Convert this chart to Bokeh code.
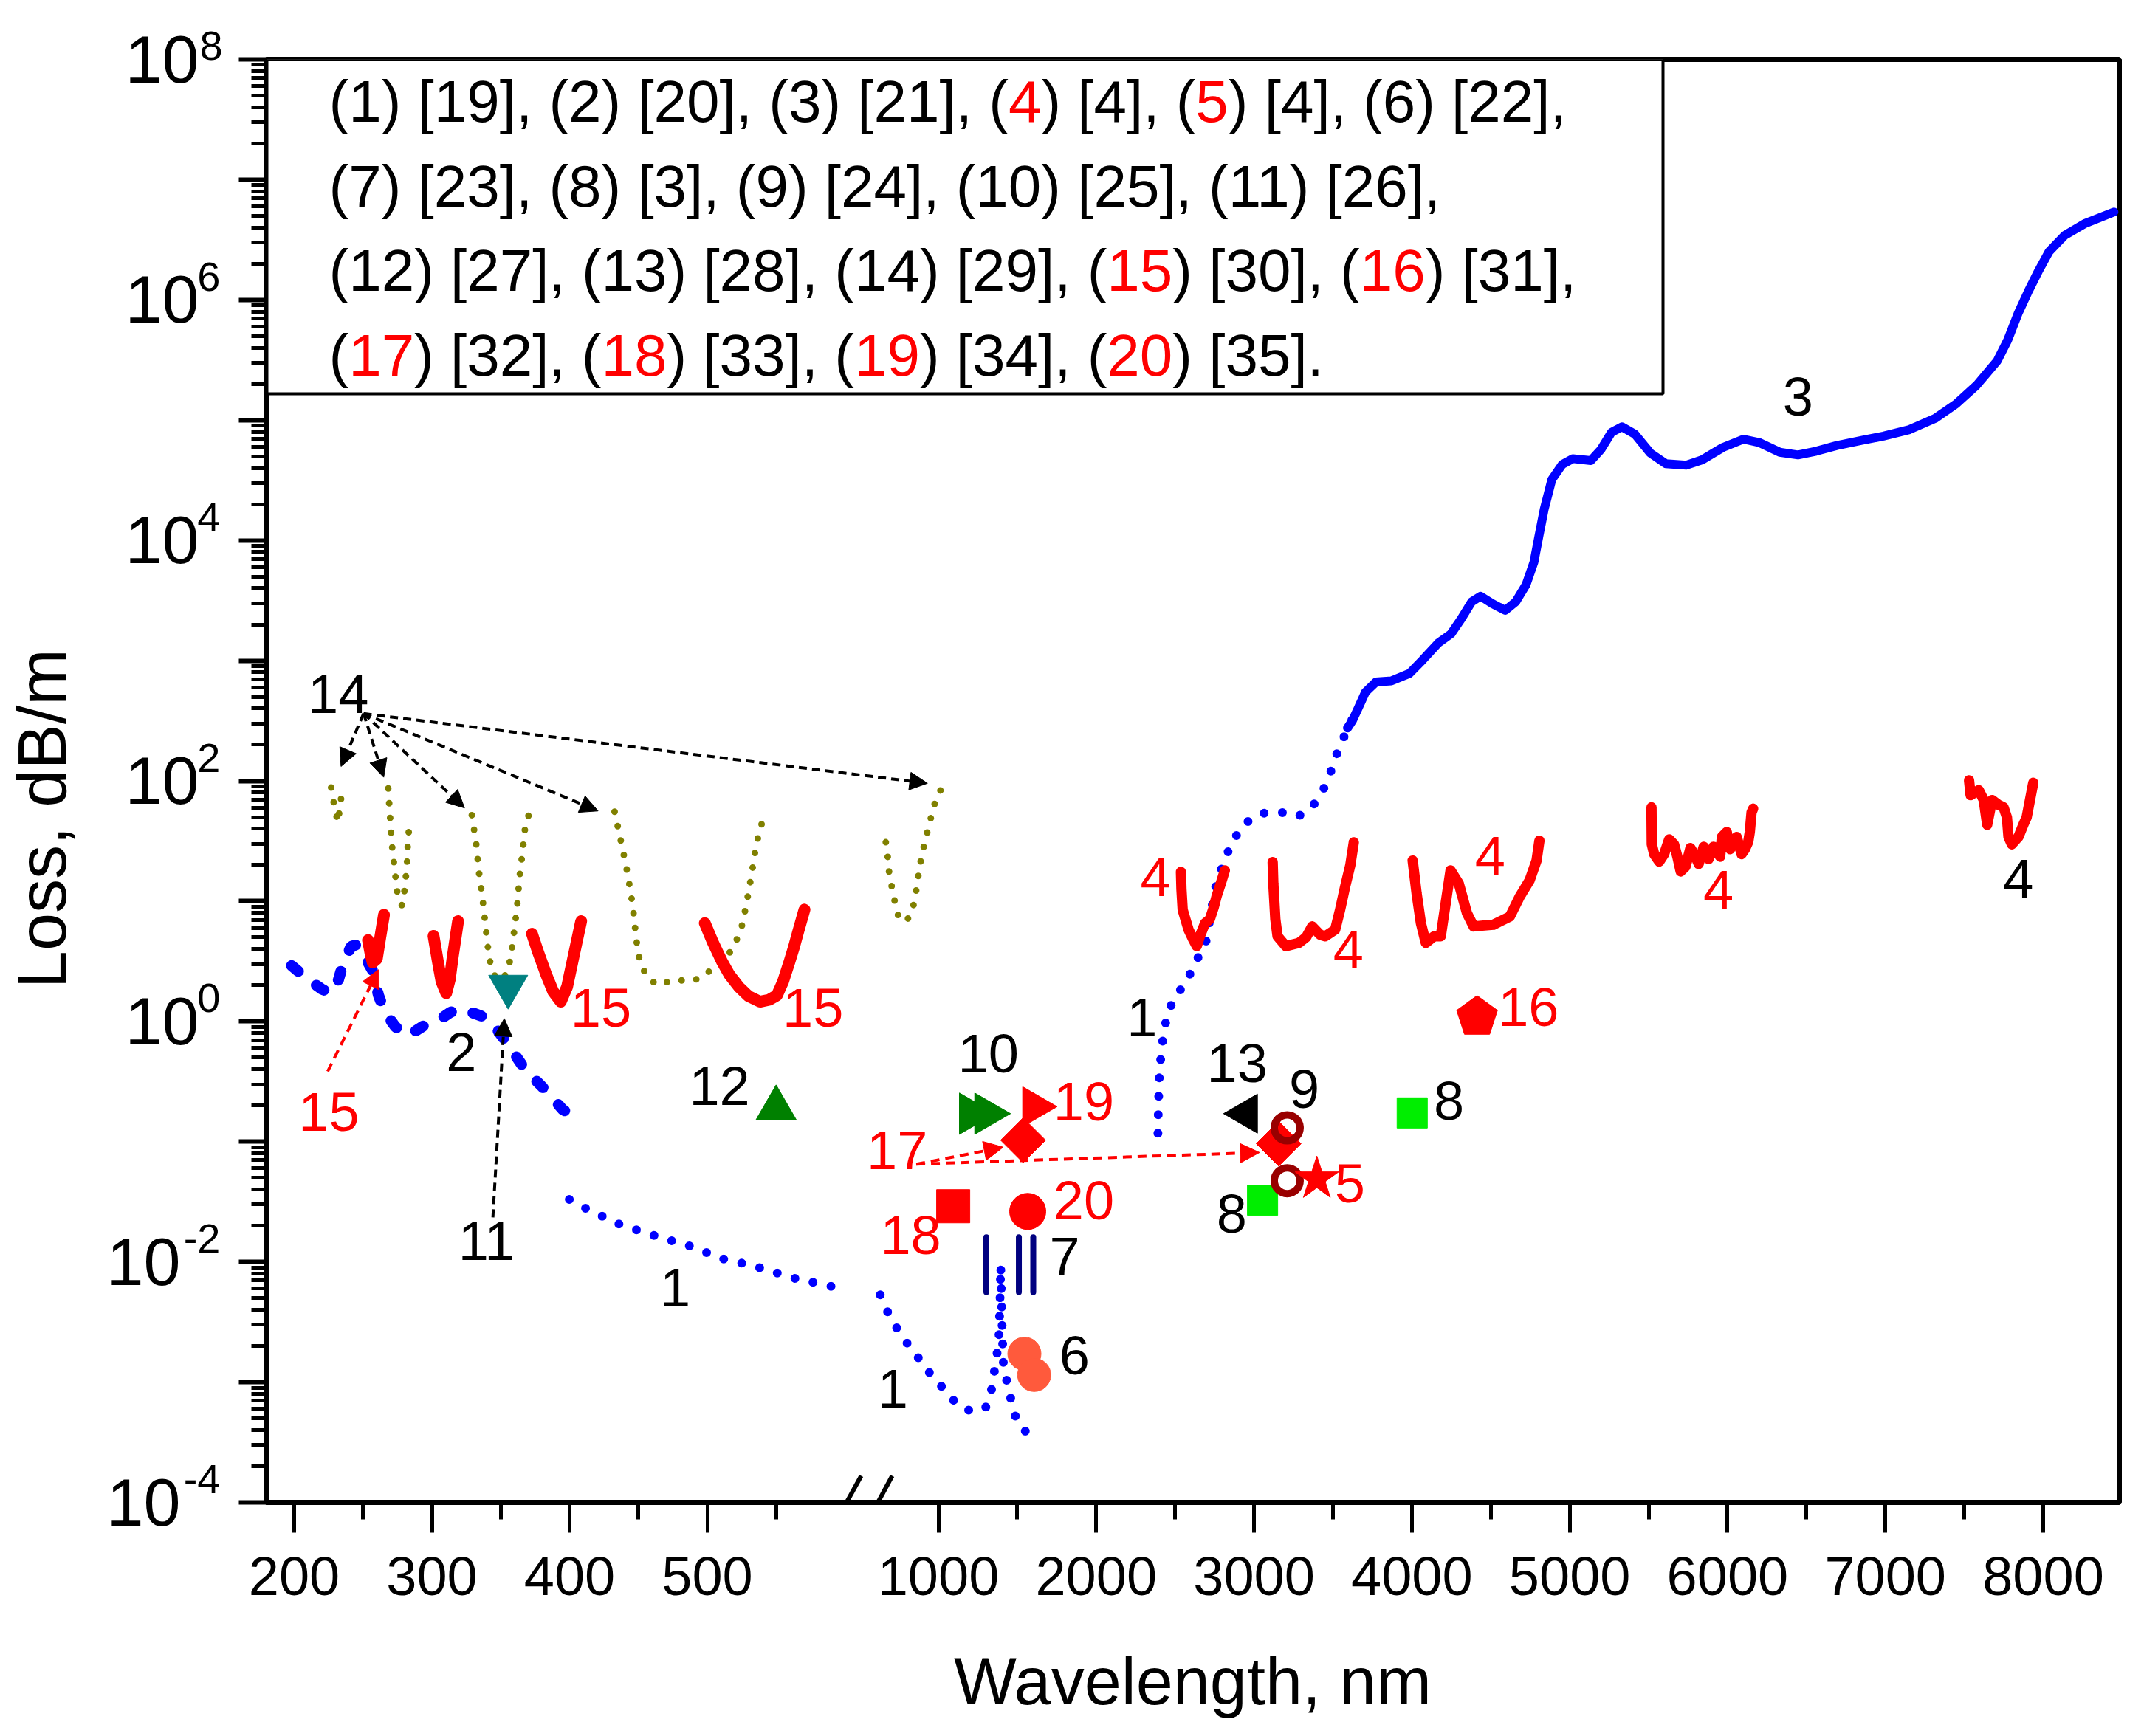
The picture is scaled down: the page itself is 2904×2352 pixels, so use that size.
import numpy as np
from bokeh.plotting import figure
from bokeh.models import (Range1d, FixedTicker, CustomJSTickFormatter, Label, Arrow,
                          NormalHead, BoxAnnotation, LogAxis, Title)
from bokeh.embed import file_html
from bokeh.resources import INLINE

FONT = "Liberation Sans"

# ---------------- data: wavelength (nm), loss exponent = log10(loss, dB/m) ----------------
# curve 1 (blue dotted) three pieces
c1a_wl = [399.8, 412.8, 425.9, 439.2, 453.6, 466.9, 480.7, 494.6, 508.1, 521.9, 535.1, 550.0, 563.5, 577.4, 591.2, 596.0]
c1a_ex = [-1.481, -1.562, -1.632, -1.703, -1.749, -1.801, -1.844, -1.896, -1.967, -2.002, -2.038, -2.090, -2.136, -2.171, -2.206, -2.22]
c1b_wl = [632, 680, 731, 780, 839, 882, 933, 994, 1056, 1121, 1156, 1223, 1260, 1298, 1330, 1349, 1370, 1384, 1390, 1395,
          1400, 1405, 1412, 1425, 1440, 1464, 1497, 1558]
c1b_ex = [-2.274, -2.42, -2.538, -2.64, -2.735, -2.814, -2.905, -2.993, -3.096, -3.184, -3.22, -3.243, -3.23, -3.214, -3.117,
          -2.961, -2.779, -2.618, -2.35, -2.03, -2.3, -2.6, -2.85, -2.97, -3.0, -3.176, -3.322, -3.419]
c1c_wl = [2391, 2393, 2396, 2400, 2410, 2425, 2447, 2496, 2565, 2620, 2694, 2717, 2738, 2762, 2808, 2856, 2936, 3038, 3155,
          3278, 3368, 3441, 3493, 3535, 3600, 3660]
c1c_ex = [-0.93, -0.78, -0.62, -0.46, -0.29, -0.12, 0.04, 0.205, 0.311, 0.468, 0.653, 0.826, 0.99, 1.155, 1.316, 1.481, 1.64,
          1.727, 1.744, 1.703, 1.782, 1.933, 2.1, 2.27, 2.45, 2.62]
# curve 2 (blue dashed)
c2_wl = [198.1, 208.9, 219.7, 225.8, 230.5, 235.1, 241.2, 246.0, 250.5, 256.6, 261.2, 265.8, 273.6, 282.8, 295.1, 304.3,
         313.6, 321.3, 336.7, 345.9, 355.1, 367.5, 381.3, 395.1, 405.9]
c2_ex = [0.464, 0.359, 0.271, 0.236, 0.282, 0.464, 0.623, 0.64, 0.553, 0.43, 0.218, 0.077, -0.046, -0.117, -0.029, 0.006,
         0.077, 0.105, 0.042, -0.046, -0.188, -0.398, -0.558, -0.734, -0.804]
# curve 3 (blue solid)
c3_wl = [3592, 3624, 3657, 3706, 3772, 3870, 3985, 4067, 4166, 4248, 4313, 4379, 4435, 4510, 4592, 4658, 4723, 4773, 4805,
         4838, 4887, 4953, 5019, 5134, 5199, 5265, 5331, 5413, 5511, 5609, 5740, 5839, 5970, 6101, 6200, 6331, 6446, 6561,
         6692, 6856, 6987, 7152, 7316, 7447, 7578, 7709, 7775, 7840, 7906, 7972, 8037, 8136, 8267, 8448]
c3_ex = [2.44, 2.503, 2.597, 2.738, 2.822, 2.832, 2.894, 3.004, 3.145, 3.223, 3.348, 3.489, 3.536, 3.474, 3.418, 3.489, 3.63,
         3.818, 4.037, 4.257, 4.507, 4.632, 4.68, 4.664, 4.758, 4.899, 4.945, 4.883, 4.726, 4.638, 4.626, 4.67, 4.773, 4.842,
         4.814, 4.733, 4.711, 4.742, 4.789, 4.833, 4.867, 4.921, 5.015, 5.134, 5.29, 5.494, 5.666, 5.885, 6.073, 6.246,
         6.402, 6.537, 6.637, 6.731]
# curve 4 (red, five windows)
c4a_wl = [2537, 2540, 2548, 2585, 2615, 2637, 2660, 2690, 2720, 2745, 2762, 2790, 2815]
c4a_ex = [1.243, 1.1, 0.927, 0.763, 0.68, 0.626, 0.72, 0.818, 0.85, 0.95, 1.037, 1.15, 1.256]
c4b_wl = [3118, 3122, 3135, 3149, 3201, 3284, 3330, 3368, 3420, 3451, 3514, 3545, 3577, 3610, 3632]
c4b_ex = [1.325, 1.15, 0.85, 0.708, 0.626, 0.653, 0.70, 0.79, 0.72, 0.708, 0.763, 0.927, 1.12, 1.30, 1.489]
c4c_wl = [4005, 4030, 4057, 4088, 4141, 4183, 4214, 4245, 4297, 4349, 4391, 4516, 4621, 4683, 4746, 4790, 4808]
c4c_ex = [1.338, 1.064, 0.818, 0.653, 0.708, 0.708, 0.982, 1.256, 1.147, 0.9, 0.79, 0.804, 0.872, 1.037, 1.174, 1.338, 1.503]
c4d_wl = [5518, 5520, 5535, 5567, 5598, 5630, 5661, 5682, 5703, 5734, 5765, 5797, 5817, 5849, 5880, 5911, 5953, 5964, 5995,
          6016, 6058, 6089, 6110, 6131, 6141, 6152, 6162]
c4d_ex = [1.78, 1.473, 1.391, 1.329, 1.391, 1.514, 1.473, 1.37, 1.247, 1.288, 1.442, 1.37, 1.309, 1.452, 1.35, 1.452, 1.37,
          1.534, 1.575, 1.432, 1.534, 1.391, 1.432, 1.493, 1.575, 1.738, 1.769]
c4e_wl = [7530, 7540, 7592, 7623, 7645, 7676, 7718, 7749, 7770, 7780, 7801, 7843, 7874, 7895, 7916, 7937]
c4e_ex = [2.005, 1.882, 1.923, 1.841, 1.636, 1.841, 1.8, 1.78, 1.697, 1.534, 1.473, 1.534, 1.636, 1.697, 1.841, 1.984]
# curve 14 (olive dotted)
c14a_wl = [226.8, 229.0, 231.7, 233.5, 235.1]
c14a_ex = [1.944, 1.8, 1.655, 1.8, 1.962]
c14b_wl = [268.3, 270.8, 273.2, 275.3, 278.2, 280.3, 281.9, 282.8, 285.0]
c14b_ex = [1.937, 1.487, 1.24, 1.03, 0.965, 1.10, 1.31, 1.557, 1.655]
c14c_wl = [329.0, 332.1, 334.2, 336.7, 339.1, 341.3, 343.4, 347.4, 354.5, 357.3, 359.7, 361.9, 363.7, 365.9, 368.0, 371.1]
c14c_ex = [1.715, 1.486, 1.24, 1.029, 0.782, 0.553, 0.436, 0.341, 0.394, 0.535, 0.746, 0.958, 1.205, 1.416, 1.645, 1.74]
c14d_wl = [432.7, 436.7, 438.8, 440.7, 442.8, 444.4, 446.0, 446.8, 448.1, 449.1, 451.1, 455.1, 462.8, 472.0, 478.7, 485.9,
           492.1, 498.2, 507.5, 513.7, 519.8, 524.4, 526.6, 530.5, 532.1, 533.7, 535.2, 537.6, 539.8, 544.4]
c14d_ex = [1.744, 1.529, 1.416, 1.31, 1.187, 1.063, 0.958, 0.852, 0.729, 0.623, 0.5, 0.394, 0.306, 0.33, 0.341, 0.341, 0.35,
           0.401, 0.443, 0.524, 0.64, 0.757, 0.87, 1.106, 1.222, 1.327, 1.45, 1.563, 1.655, 1.733]
c14e_wl = [667, 680, 688, 700, 716, 729, 745, 770, 796, 836, 861, 883, 905, 948, 983, 1035]
c14e_ex = [1.49, 1.36, 1.24, 1.15, 1.05, 0.96, 0.88, 0.84, 0.83, 0.92, 1.1, 1.3, 1.44, 1.67, 1.84, 1.98]
# curve 15 (red solid)
c15a_wl = [253.6, 255.5, 257.0, 260.0, 262.5, 265.2]
c15a_ex = [0.676, 0.56, 0.49, 0.52, 0.70, 0.887]
c15b_wl = [301.2, 304.3, 307.0, 310.4, 313.0, 315.1, 317.0, 319.0]
c15b_ex = [0.711, 0.5, 0.33, 0.235, 0.35, 0.535, 0.68, 0.834]
c15c_wl = [372.7, 377.0, 382.9, 388.0, 393.6, 398.2, 402.8, 405.5, 408.4]
c15c_ex = [0.729, 0.58, 0.394, 0.25, 0.164, 0.288, 0.535, 0.68, 0.834]
c15d_wl = [498.2, 504.0, 510.6, 516.0, 522.9, 530.0, 538.3, 545.0, 550.6, 555.0, 559.8, 563.0, 566.0, 570.6]
c15d_ex = [0.817, 0.66, 0.5, 0.39, 0.288, 0.21, 0.164, 0.18, 0.217, 0.33, 0.5, 0.62, 0.746, 0.93]

# single-point results
m5_wl, m5_ex = [3398], [-1.31]
m6_wl, m6_ex = [1545, 1607], [-2.764, -2.94]
m7_wl, m7_lo, m7_hi = [1304, 1510, 1601], [-2.25, -2.25, -2.25], [-1.795, -1.795, -1.795]
m8_wl, m8_ex = [3054, 4002], [-1.487, -0.761]
m9_wl, m9_ex = [3210, 3210], [-0.885, -1.325]
m10_wl, m10_ex = [1209, 1306], [-0.767, -0.767]
m11_wl, m11_ex = [355.4], [0.29]
m12_wl, m12_ex = [550.0], [-0.723]
m13_wl, m13_ex = [2950], [-0.767]
m16_wl, m16_ex = [4413], [0.037]
m17_wl, m17_ex = [1537, 3156], [-0.988, -1.017]
m18_wl, m18_ex = [1094], [-1.537]
m19_wl, m19_ex = [1607], [-0.709]
m20_wl, m20_ex = [1566], [-1.58]

# in-plot labels: (text, axis part, wavelength, exponent of text centre, colour)
labels = [
    ("14", "L", 232.0, 2.72, "black"), ("15", "L", 422.8, 0.112, "red"), ("15", "L", 576.8, 0.112, "red"),
    ("15", "L", 225.2, -0.751, "red"), ("2", "L", 321.3, -0.258, "black"), ("11", "L", 339.7, -1.826, "black"),
    ("12", "L", 508.9, -0.54, "black"), ("1", "L", 476.7, -2.214, "black"),
    ("10", "R", 1317, -0.267, "black"), ("19", "R", 1921, -0.665, "red"), ("17", "R", 739, -1.075, "red"),
    ("18", "R", 825, -1.78, "red"), ("20", "R", 1921, -1.487, "red"), ("7", "R", 1800, -1.956, "black"),
    ("6", "R", 1862, -2.778, "black"), ("1", "R", 712, -3.057, "black"), ("1", "R", 2290, 0.03, "black"),
    ("13", "R", 2893, -0.35, "black"), ("9", "R", 3318, -0.563, "black"), ("5", "R", 3607, -1.35, "red"),
    ("8", "R", 2858, -1.6, "black"), ("8", "R", 4235, -0.663, "black"), ("16", "R", 4739, 0.119, "red"),
    ("4", "R", 2376, 1.202, "red"), ("4", "R", 3598, 0.599, "red"), ("4", "R", 4496, 1.38, "red"),
    ("4", "R", 5942, 1.094, "red"), ("4", "R", 7843, 1.186, "black"), ("3", "R", 6446, 5.196, "black"),
]

x_left_major = [200, 300, 400, 500]
x_left_minor = [250, 350, 450, 550]
x_right_major = [1000, 2000, 3000, 4000, 5000, 6000, 7000, 8000]
x_right_minor = [1500, 2500, 3500, 4500, 5500, 6500, 7500]
y_major_exps = list(range(-4, 9))
y_label_exps = [8, 6, 4, 2, 0, -2, -4]

legend_lines = [
    [("(1) [19], (2) [20], (3) [21], (", "black"), ("4", "red"), (") [4], (", "black"), ("5", "red"),
     (") [4], (6) [22],", "black")],
    [("(7) [23], (8) [3], (9) [24], (10) [25], (11) [26],", "black")],
    [("(12) [27], (13) [28], (14) [29], (", "black"), ("15", "red"), (") [30], (", "black"), ("16", "red"),
     (") [31],", "black")],
    [("(", "black"), ("17", "red"), (") [32], (", "black"), ("18", "red"), (") [33], (", "black"), ("19", "red"),
     (") [34], (", "black"), ("20", "red"), (") [35].", "black")],
]

# ---------------- layout calibration (canvas pixels) ----------------
CW, CH = 2888, 2336
FL, FR, FT, FB = 360.0, 2870.0, 80.0, 2035.0
SL = (957.5 - 398.0) / 300.0           # px per nm, left part
SR = (2767.0 - 1270.5) / 7000.0        # px per nm, right part
L0 = 200.0 - (398.0 - FL) / SL
L1 = L0 + (FR - FL) / SL
R0 = 1000.0 - (1270.5 - FL) / SR
R1 = R0 + (FR - FL) / SR
PXDEC = (FB - FT) / 12.0
SUP_SHIFT = 31.5 / PXDEC               # superscripts sit above the decade tick


def E(a):
    return 10.0 ** np.asarray(a, dtype=float)


def to_left(wl):
    return L0 + (np.asarray(wl, dtype=float) - R0) * (L1 - L0) / (R1 - R0)


def px_x(px):
    return L0 + (px - FL) / SL


def px_e(py):
    return 8.0 - (py - FT) / PXDEC


p = figure(width=CW, height=CH, output_backend="svg", toolbar_location=None, title=None,
           x_range=Range1d(L0, L1), y_range=Range1d(1e-4, 1e8), y_axis_type="log",
           min_border_left=int(FL), min_border_right=int(CW - FR),
           min_border_top=int(FT), min_border_bottom=int(CH - FB))
p.extra_x_ranges = {"right": Range1d(R0, R1)}
p.grid.visible = False
p.background_fill_color = "white"
p.border_fill_color = "white"
p.outline_line_color = "black"
p.outline_line_width = 7

# x axis (broken): one axis, right-part ticks mapped onto it
xa = p.xaxis[0]
pos = list(x_left_major) + [float(v) for v in to_left(x_right_major)]
labs = [str(v) for v in x_left_major + x_right_major]
xa.ticker = FixedTicker(ticks=pos, minor_ticks=list(x_left_minor) + [float(v) for v in to_left(x_right_minor)])
xa.formatter = CustomJSTickFormatter(args=dict(pos=pos, labs=labs), code="""
let best = ''; let bd = 1e12;
for (let i = 0; i < pos.length; i++) { const d = Math.abs(pos[i] - tick); if (d < bd) { bd = d; best = labs[i]; } }
return best;
""")
xa.major_label_text_font = FONT
xa.major_label_text_font_size = "74px"
xa.major_label_text_color = "black"
xa.major_label_standoff = 33
xa.major_tick_out = 41
xa.major_tick_in = 0
xa.minor_tick_out = 23
xa.minor_tick_in = 0
xa.major_tick_line_width = 5
xa.minor_tick_line_width = 5
xa.axis_line_width = 7
xa.axis_label = "Wavelength, nm"
xa.axis_label_text_font = FONT
xa.axis_label_text_font_size = "90px"
xa.axis_label_text_font_style = "normal"
xa.axis_label_text_color = "black"
xa.axis_label_standoff = 64

# y axis: decade ticks with "10" labels (a no-break space leaves room for a minus sign)
ya = p.yaxis[0]
ya.ticker = FixedTicker(ticks=[10.0 ** k for k in y_major_exps],
                        minor_ticks=[m * 10.0 ** k for k in y_major_exps[:-1] for m in range(2, 10)])
ya.formatter = CustomJSTickFormatter(
    code="const k = Math.round(Math.log10(tick)); if (k % 2 !== 0) return ''; return k < 0 ? '10\\u00a0' : '10';")
ya.major_label_text_font = FONT
ya.major_label_text_font_size = "90px"
ya.major_label_text_color = "black"
ya.major_label_standoff = 54
ya.major_tick_out = 37
ya.major_tick_in = 0
ya.minor_tick_out = 20
ya.minor_tick_in = 0
ya.major_tick_line_width = 6
ya.minor_tick_line_width = 5
ya.axis_line_width = 7

# second (label-only) log axis carrying the exponents and the axis title
sup_axis = LogAxis(
    ticker=FixedTicker(ticks=[10.0 ** (k + SUP_SHIFT) for k in y_label_exps if k < 8], minor_ticks=[]),
    formatter=CustomJSTickFormatter(args=dict(s=SUP_SHIFT), code="return String(Math.round(Math.log10(tick) - s));"),
    major_label_text_font=FONT, major_label_text_font_size="56px", major_label_text_color="black",
    major_label_standoff=-157, major_tick_out=0, major_tick_in=0, minor_tick_out=0, minor_tick_in=0,
    major_tick_line_color=None, minor_tick_line_color=None, axis_line_color=None,
    axis_label="Loss, dB/m\u00a0\u00a0\u00a0\u00a0", axis_label_text_font=FONT, axis_label_text_font_size="92px",
    axis_label_text_font_style="normal", axis_label_text_color="black", axis_label_standoff=138)
p.add_layout(sup_axis, "left")
# the exponent of the top decade lies above the frame: give it to a title in the top border
p.add_layout(Title(text=str(y_label_exps[0]), align="left", offset=-90, standoff=0, text_font=FONT,
                   text_font_size="56px", text_font_style="normal", text_color="black",
                   vertical_align="bottom"), "above")

# ---------------- curves ----------------
dot1 = dict(line_color="blue", line_width=12, line_dash="0 25", line_cap="round")
p.line(c1a_wl, E(c1a_ex), **dot1)
p.line(c1b_wl, E(c1b_ex), x_range_name="right", **dot1)
p.line(c1c_wl, E(c1c_ex), x_range_name="right", **dot1)
p.line(c2_wl, E(c2_ex), line_color="blue", line_width=15, line_dash="12 31", line_cap="round")
p.line(c3_wl, E(c3_ex), x_range_name="right", line_color="blue", line_width=12, line_join="round", line_cap="round")

dot14 = dict(line_color="#808000", line_width=9, line_dash="0 20", line_cap="round")
for w, e in [(c14a_wl, c14a_ex), (c14b_wl, c14b_ex), (c14c_wl, c14c_ex), (c14d_wl, c14d_ex)]:
    p.line(w, E(e), **dot14)
p.line(c14e_wl, E(c14e_ex), x_range_name="right", **dot14)

for w, e in [(c15a_wl, c15a_ex), (c15b_wl, c15b_ex), (c15c_wl, c15c_ex), (c15d_wl, c15d_ex)]:
    p.line(w, E(e), line_color="red", line_width=16, line_join="round", line_cap="round")
for w, e in [(c4a_wl, c4a_ex), (c4b_wl, c4b_ex), (c4c_wl, c4c_ex), (c4d_wl, c4d_ex), (c4e_wl, c4e_ex)]:
    p.line(w, E(e), x_range_name="right", line_color="red", line_width=14, line_join="round", line_cap="round")

# ---------------- markers ----------------
p.scatter(m11_wl, E(m11_ex), marker="inverted_triangle", size=53, fill_color="#008080", line_color="#008080")
p.scatter(m12_wl, E(m12_ex), marker="triangle", size=55, fill_color="#008000", line_color="#008000")
R = dict(x_range_name="right")
p.scatter(m10_wl, E(m10_ex), marker="triangle", angle=-np.pi / 2, size=56, fill_color="#008000", line_color="#008000", **R)
p.scatter(m19_wl, E(m19_ex), marker="triangle", angle=-np.pi / 2, size=54, fill_color="red", line_color="red", **R)
p.scatter(m17_wl, E(m17_ex), marker="square", angle=np.pi / 4, size=43, fill_color="red", line_color="red", **R)
p.scatter(m18_wl, E(m18_ex), marker="square", size=45, fill_color="red", line_color="red", **R)
p.scatter(m20_wl, E(m20_ex), marker="circle", size=49, fill_color="red", line_color="red", **R)
p.segment(x0=m7_wl, y0=E(m7_lo), x1=m7_wl, y1=E(m7_hi), line_color="#000080", line_width=8, line_cap="round", **R)
p.scatter(m6_wl, E(m6_ex), marker="circle", size=45, fill_color="#ff5a3c", line_color="#ff5a3c", **R)
p.scatter(m13_wl, E(m13_ex), marker="triangle", angle=np.pi / 2, size=53, fill_color="black", line_color="black", **R)
p.scatter(m8_wl, E(m8_ex), marker="square", size=41, fill_color="#00ee00", line_color="#00ee00", **R)
p.scatter(m9_wl, E(m9_ex), marker="circle", size=35, fill_color=None, line_color="#990000", line_width=10, **R)
p.scatter(m5_wl, E(m5_ex), marker="star", size=62, fill_color="red", line_color="red", **R)
try:
    p.ngon(x=m16_wl, y=E(m16_ex), radius=29, radius_units="screen", n=5, fill_color="red", line_color="red", **R)
except Exception:
    p.scatter(m16_wl, E(m16_ex), marker="hex", size=55, fill_color="red", line_color="red", **R)

# ---------------- arrows ----------------
def head(c, s=24):
    return NormalHead(size=s, fill_color=c, line_color=c, line_width=1)

o14 = (250.4, 2.56)
for tx, te in [(234.0, 2.12), (265.0, 2.03), (323.7, 1.775), (420.7, 1.75), (float(to_left(931)), 1.98)]:
    p.add_layout(Arrow(x_start=o14[0], y_start=10 ** o14[1], x_end=tx, y_end=10 ** te, line_color="black",
                       line_width=4, line_dash="11 7", end=head("black")))
p.add_layout(Arrow(x_start=344.3, y_start=10 ** -1.63, x_end=352.6, y_end=10 ** 0.024, line_color="black",
                   line_width=4, line_dash="11 7", end=head("black")))
p.add_layout(Arrow(x_start=224.3, y_start=10 ** -0.416, x_end=261.2, y_end=10 ** 0.43, line_color="red",
                   line_width=4, line_dash="12 8", end=head("red")))
for tx, te in [(1411, -1.046), (3035, -1.09)]:
    p.add_layout(Arrow(x_start=860, y_start=10 ** -1.187, x_end=tx, y_end=10 ** te, x_range_name="right",
                       line_color="red", line_width=4, line_dash="12 8", end=head("red", 26)))

# axis break marks "//"
for (xa0, ya0, xa1, ya1) in [(1123, 2077, 1166, 1999), (1166, 2077, 1208, 1999)]:
    p.add_layout(Arrow(x_start=px_x(xa0), y_start=10 ** px_e(ya0), x_end=px_x(xa1), y_end=10 ** px_e(ya1),
                       line_color="black", line_width=6, end=None))

# ---------------- in-plot labels (anchor = centre of the digits) ----------------
FS = 74
for txt, part, wl, ex, col in labels:
    kw = dict(x_range_name="right") if part == "R" else {}
    p.add_layout(Label(x=wl, y=10 ** ex, text=txt, text_font=FONT,
                       text_font_size=f"{FS}px", text_color=col, text_align="center",
                       text_baseline="alphabetic", **kw))

# ---------------- reference box ----------------
p.add_layout(BoxAnnotation(left=px_x(361), right=px_x(2252), top=1e8, bottom=10 ** px_e(533),
                           fill_color="white", fill_alpha=1.0, line_color="black", line_width=4, line_alpha=1.0))
ADV = {c: 0.556 for c in "0123456789"}
ADV.update({"(": 0.333, ")": 0.333, "[": 0.278, "]": 0.278, ",": 0.278, " ": 0.278, ".": 0.278, "-": 0.333})
LFS = 80
for i, segs in enumerate(legend_lines):
    base = 166 + 114.4 * i
    off = 0.0
    for txt, col in segs:
        p.add_layout(Label(x=px_x(445), y=10 ** px_e(base - 0.358 * LFS), x_offset=off, text=txt, text_font=FONT,
                           text_font_size=f"{LFS}px", text_color=col, text_align="left",
                           text_baseline="alphabetic"))
        off += sum(ADV[c] for c in txt) * LFS

open("out.html", "w").write(file_html(p, INLINE))
